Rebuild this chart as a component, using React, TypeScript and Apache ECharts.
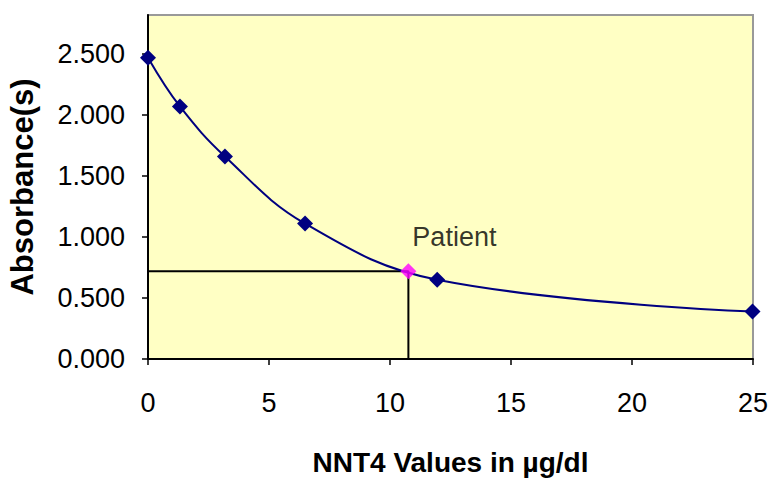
import React, { useEffect, useRef } from "react";
import * as echarts from "echarts";

const stdX = [0, 1.32, 3.18, 6.49, 11.95, 24.98];
const stdY = [2.47, 2.07, 1.66, 1.11, 0.65, 0.39];
const patientX = 10.76;
const patientY = 0.72;
const yTicks = [0, 0.5, 1, 1.5, 2, 2.5];
const xTicks = [0, 5, 10, 15, 20, 25];

const FONT = "'Liberation Sans', Arial, sans-serif";

export default function App() {
  const ref = useRef<HTMLDivElement>(null);
  useEffect(() => {
    if (!ref.current) return;
    const chart = echarts.init(ref.current, null, { renderer: "svg" });
    chart.setOption({
      animation: false,
      backgroundColor: "#ffffff",
      grid: {
        left: 148,
        right: 16,
        top: 15,
        bottom: 120,
        outerBoundsMode: "none",
        containLabel: false,
        show: true,
        backgroundColor: "#FFFFC4",
        borderColor: "#999999",
        borderWidth: 2,
      },
      xAxis: {
        type: "value",
        min: 0,
        max: 25,
        interval: 5,
        name: "NNT4 Values in µg/dl",
        nameLocation: "middle",
        nameGap: 89,
        nameTextStyle: { fontFamily: FONT, fontSize: 28, fontWeight: "bold", color: "#000" },
        axisLine: { lineStyle: { color: "#000", width: 2 } },
        axisTick: { show: true, length: 6, lineStyle: { color: "#000", width: 1.5 }, customValues: xTicks },
        axisLabel: { fontFamily: FONT, fontSize: 27, color: "#000", margin: 30, customValues: xTicks },
        splitLine: { show: false },
      },
      yAxis: {
        type: "value",
        min: 0,
        max: 2.82,
        name: "Absorbance(s)",
        nameLocation: "middle",
        nameGap: 110,
        nameTextStyle: { fontFamily: FONT, fontSize: 31, fontWeight: "bold", color: "#000" },
        axisLine: { show: true, lineStyle: { color: "#000", width: 2 } },
        axisTick: { show: true, length: 6, lineStyle: { color: "#000", width: 1.5 }, customValues: yTicks },
        axisLabel: {
          fontFamily: FONT,
          fontSize: 27,
          color: "#000",
          margin: 23,
          customValues: yTicks,
          formatter: (v: number) => v.toFixed(3),
        },
        splitLine: { show: false },
      },
      series: [
        {
          type: "line",
          data: [
            [0, patientY],
            [patientX, patientY],
            [patientX, 0],
          ],
          symbol: "none",
          lineStyle: { color: "#000", width: 2 },
          z: 2,
        },
        {
          type: "line",
          data: stdX.map((x, i) => [x, stdY[i]]),
          smooth: 0.4,
          symbol: "diamond",
          symbolSize: 16,
          itemStyle: { color: "#000080" },
          lineStyle: { color: "#000080", width: 2 },
          z: 3,
        },
        {
          type: "scatter",
          data: [[patientX, patientY]],
          symbol: "diamond",
          symbolSize: 16,
          itemStyle: { color: "#FF00FF" },
          label: {
            show: true,
            formatter: "Patient",
            position: "top",
            offset: [46, -8],
            fontFamily: FONT,
            fontSize: 27,
            color: "#000",
          },
          z: 4,
        },
      ],
    });
    return () => chart.dispose();
  }, []);
  return (
    <div
      ref={ref}
      style={{ position: "fixed", left: 0, top: 0, width: 769, height: 479 }}
    />
  );
}
